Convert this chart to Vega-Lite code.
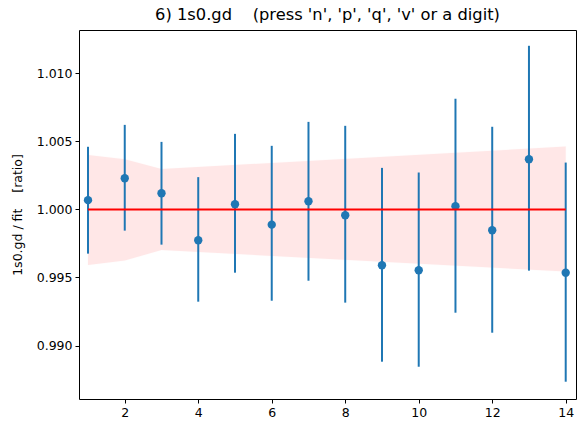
{
  "$schema": "https://vega.github.io/schema/vega-lite/v6.json",
  "autosize": {"type": "none"},
  "width": 497,
  "height": 369,
  "padding": {"left": 79, "top": 30, "right": 12, "bottom": 34},
  "background": "white",
  "config": {
    "font": "DejaVu Sans",
    "view": {"stroke": "black", "strokeWidth": 1},
    "axis": {
      "grid": false,
      "domain": false,
      "tickColor": "black",
      "tickSize": 4,
      "tickWidth": 1,
      "labelColor": "black",
      "labelFontSize": 12.5,
      "labelFont": "DejaVu Sans",
      "titleFont": "DejaVu Sans",
      "titleFontSize": 12.5,
      "titleFontWeight": "normal",
      "titleColor": "black"
    }
  },
  "title": {
    "text": "6) 1s0.gd\u00a0\u00a0\u00a0 (press 'n', 'p', 'q', 'v' or a digit)",
    "font": "DejaVu Sans",
    "fontSize": 16.3,
    "fontWeight": "normal",
    "color": "black",
    "offset": 7
  },
  "datasets": {
    "pts": [
      {"x": 1, "y": 1.00068, "lo": 0.99675, "hi": 1.0046},
      {"x": 2, "y": 1.00229, "lo": 0.99844, "hi": 1.00621},
      {"x": 3, "y": 1.00119, "lo": 0.99741, "hi": 1.00496},
      {"x": 4, "y": 0.99773, "lo": 0.99322, "hi": 1.00237},
      {"x": 5, "y": 1.00038, "lo": 0.99535, "hi": 1.00555},
      {"x": 6, "y": 0.99888, "lo": 0.99329, "hi": 1.00467},
      {"x": 7, "y": 1.0006, "lo": 0.99476, "hi": 1.00643},
      {"x": 8, "y": 0.99957, "lo": 0.99315, "hi": 1.00614},
      {"x": 9, "y": 0.9959, "lo": 0.98881, "hi": 1.00305},
      {"x": 10, "y": 0.99553, "lo": 0.98844, "hi": 1.00271},
      {"x": 11, "y": 1.00024, "lo": 0.99241, "hi": 1.00813},
      {"x": 12, "y": 0.99847, "lo": 0.99094, "hi": 1.00607},
      {"x": 13, "y": 1.00369, "lo": 0.9955, "hi": 1.01202},
      {"x": 14, "y": 0.99535, "lo": 0.98734, "hi": 1.00344}
    ],
    "band": [
      {"x": 1, "lower": 0.99592, "upper": 1.004},
      {"x": 2, "lower": 0.99624, "upper": 1.00369},
      {"x": 3, "lower": 0.99702, "upper": 1.00296},
      {"x": 14, "lower": 0.99543, "upper": 1.00462}
    ],
    "ref": [
      {"x": 1, "y": 1.0},
      {"x": 14, "y": 1.0}
    ]
  },
  "encoding": {
    "x": {
      "field": "x",
      "type": "quantitative",
      "scale": {"domain": [0.755, 14.28], "nice": false, "zero": false},
      "axis": {"values": [2, 4, 6, 8, 10, 12, 14], "title": null, "labelPadding": 3}
    }
  },
  "layer": [
    {
      "data": {"name": "band"},
      "mark": {"type": "area", "color": "red", "opacity": 0.09, "stroke": "red", "strokeOpacity": 0.1},
      "encoding": {
        "y": {
          "field": "lower",
          "type": "quantitative",
          "scale": {"domain": [0.98607, 1.01318], "nice": false, "zero": false},
          "axis": {
            "values": [0.99, 0.995, 1.0, 1.005, 1.01],
            "format": ".3f",
            "title": "1s0.gd / fit\u00a0\u00a0\u00a0 [ratio]",
            "titleX": -62,
            "titleBaseline": "middle",
            "labelPadding": 3
          }
        },
        "y2": {"field": "upper"}
      }
    },
    {
      "data": {"name": "pts"},
      "mark": {"type": "rule", "color": "#1f77b4", "strokeWidth": 2},
      "encoding": {
        "y": {"field": "lo", "type": "quantitative"},
        "y2": {"field": "hi"}
      }
    },
    {
      "data": {"name": "pts"},
      "mark": {"type": "point", "filled": true, "color": "#1f77b4", "opacity": 1, "size": 70},
      "encoding": {
        "y": {"field": "y", "type": "quantitative"}
      }
    },
    {
      "data": {"name": "ref"},
      "mark": {"type": "line", "color": "red", "strokeWidth": 2},
      "encoding": {
        "y": {"field": "y", "type": "quantitative"}
      }
    }
  ]
}
